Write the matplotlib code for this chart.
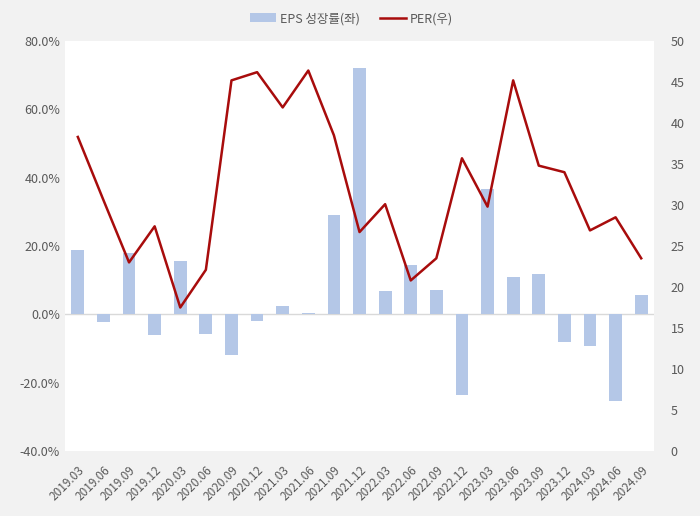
import matplotlib
matplotlib.use("Agg")
import matplotlib.pyplot as plt
from matplotlib.ticker import FuncFormatter

plt.rcParams['font.family'] = ['Noto Sans CJK KR', 'DejaVu Sans']

quarters = ["2019.03", "2019.06", "2019.09", "2019.12", "2020.03", "2020.06", "2020.09", "2020.12",
            "2021.03", "2021.06", "2021.09", "2021.12", "2022.03", "2022.06", "2022.09", "2022.12",
            "2023.03", "2023.06", "2023.09", "2023.12", "2024.03", "2024.06", "2024.09"]
eps_growth = [18.8, -2.2, 18.0, -6.0, 15.6, -5.7, -11.9, -2.0, 2.4, 0.4, 29.0, 72.0,
              6.8, 14.4, 7.1, -23.5, 36.7, 10.9, 11.8, -8.0, -9.2, -25.3, 5.6]
per = [38.3, 30.6, 23.0, 27.4, 17.5, 22.1, 45.2, 46.2, 41.9, 46.4, 38.5, 26.7,
       30.1, 20.8, 23.5, 35.7, 29.8, 45.2, 34.8, 34.0, 26.9, 28.5, 23.5]

bar_color = "#b4c7e7"
line_color = "#a80c0c"
text_color = "#595959"

fig = plt.figure(figsize=(7.0, 5.16), dpi=100, facecolor="#f2f2f2")
ax = fig.add_axes([0.0929, 0.126, 0.8414, 0.7945])
ax.set_facecolor("white")
x = list(range(len(quarters)))
ax.bar(x, eps_growth, width=0.5, color=bar_color, label="EPS 성장률(좌)", zorder=2)
ax.axhline(0, color="#d9d9d9", lw=1, zorder=1)
ax.set_ylim(-40, 80)
ax.set_yticks([-40, -20, 0, 20, 40, 60, 80])
ax.yaxis.set_major_formatter(FuncFormatter(lambda v, p: f"{v:.1f}%"))
ax.set_xlim(-0.5, len(quarters) - 0.5)
ax.set_xticks(x)
ax.set_xticklabels(quarters, rotation=45, ha="right", rotation_mode="anchor")
for s in ax.spines.values():
    s.set_visible(False)
ax.tick_params(axis="both", length=0, colors=text_color, labelsize=9)
ax.tick_params(axis="x", labelsize=8.5, pad=9)

ax2 = ax.twinx()
ax2.plot(x, per, color=line_color, lw=1.8, label="PER(우)", zorder=3)
ax2.set_ylim(0, 50)
ax2.set_yticks(range(0, 51, 5))
for s in ax2.spines.values():
    s.set_visible(False)
ax2.tick_params(axis="y", length=0, colors=text_color, labelsize=9, pad=12)

h1, l1 = ax.get_legend_handles_labels()
h2, l2 = ax2.get_legend_handles_labels()
fig.legend(h1 + h2, l1 + l2, loc="center", bbox_to_anchor=(0.502, 0.964), ncol=2,
           frameon=False, fontsize=9, labelcolor=text_color, handlelength=2.1,
           handletextpad=0.3, columnspacing=1.6)

fig.savefig("out.png", dpi=100, facecolor=fig.get_facecolor())
